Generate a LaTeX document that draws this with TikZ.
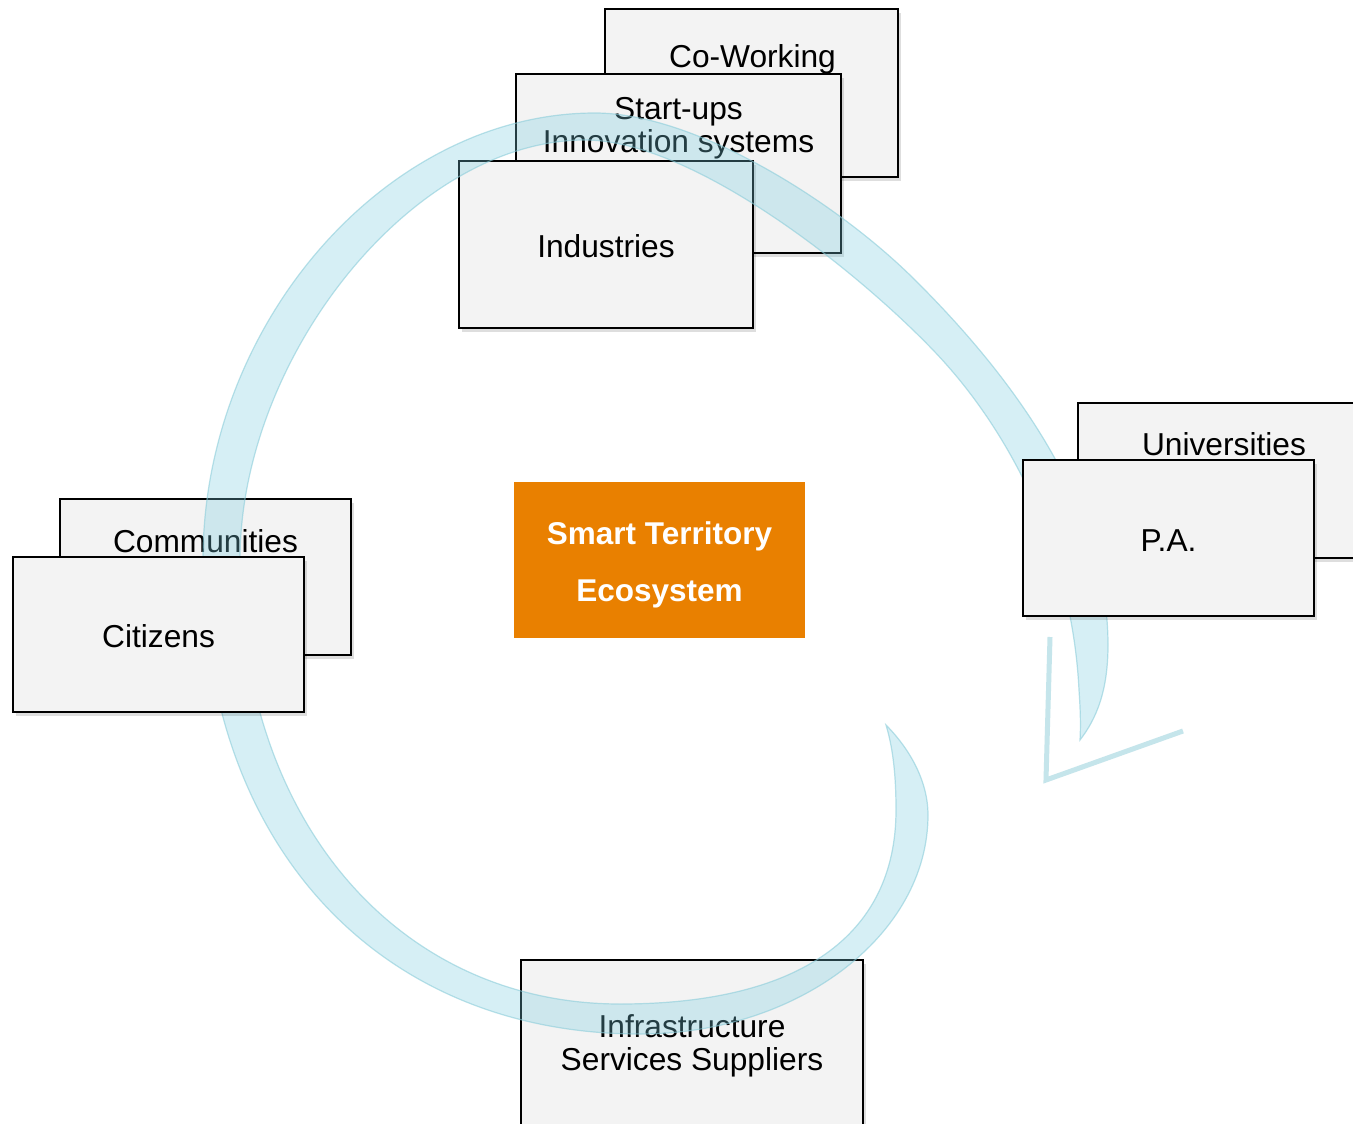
\documentclass[tikz,border=0pt]{standalone}
\usepackage{fontspec}
\setmainfont{Liberation Sans}
\usetikzlibrary{shadows}
\definecolor{boxfill}{RGB}{243,243,243}
\definecolor{orangebox}{RGB}{233,128,0}
\definecolor{ribbon}{RGB}{120,205,225}
\definecolor{ribbonedge}{RGB}{140,205,218}
\definecolor{headline}{RGB}{197,229,235}
\begin{document}
\begin{tikzpicture}[x=1pt,y=-1pt,
  card/.style={draw=black, line width=2.2pt, fill=boxfill, rectangle, inner sep=0pt,
    drop shadow={shadow xshift=3pt,shadow yshift=-4pt,opacity=0.13,fill=black}},
  lbl/.style={anchor=base, inner sep=0pt, font=\fontsize{31.7}{33}\selectfont},
  clbl/.style={anchor=base, inner sep=0pt, text=white, font=\fontsize{31.5}{33}\selectfont\bfseries},
  ribbonstyle/.style={fill=ribbon, fill opacity=0.3, draw=ribbonedge, draw opacity=0.6, line width=1.2pt},
  headstyle/.style={draw=headline, line width=5pt, line join=miter}
]
\clip (0,0) rectangle (1353,1124);
\fill[white] (0,0) rectangle (1353,1124);

% back cards
\node[card, minimum width=293pt, minimum height=168pt] (cowork) at (751.5,93) {};
\node[lbl] (tcowork) at (752.5,67) {Co-Working};
\node[card, minimum width=325pt, minimum height=179pt] (startups) at (678.5,163.5) {};
\node[lbl] (tstart) at (678.5,119) {Start-ups};
\node[lbl] (tinnov) at (678.5,152) {Innovation systems};
\node[card, minimum width=294pt, minimum height=167pt] (industries) at (606,244.5) {};
\node[lbl] (tind) at (606,257) {Industries};
\node[card, minimum width=291pt, minimum height=156pt] (communities) at (205.5,577) {};
\node[lbl] (tcomm) at (205.5,552) {Communities};
\node[card, minimum width=292pt, minimum height=155pt] (universities) at (1224,480.5) {};
\node[lbl] (tuni) at (1224,455) {Universities};
\node[card, minimum width=342pt, minimum height=170pt] (infra) at (692,1045) {};
\node[lbl] (tinfra) at (692,1037) {Infrastructure};
\node[lbl] (tserv) at (692,1070) {Services Suppliers};

% centre
\node[fill=orangebox, rectangle, inner sep=0pt, minimum width=291pt, minimum height=156pt] (centre) at (659.5,560) {};
\node[clbl] (tsmart) at (659.5,544) {Smart Territory};
\node[clbl] (teco) at (659.5,601) {Ecosystem};

% ribbon (outer edge clockwise, then inner edge back)
\filldraw[ribbonstyle]
  (886,725) .. controls (903,742) and (928,775) .. (928,815)
  .. controls (928,935) and (798,1034) .. (640,1034)
  .. controls (378,1034) and (203,844) .. (203,560)
  .. controls (203,323) and (387,113) .. (595,113)
  .. controls (695,113) and (835,201) .. (913,278)
  .. controls (1005,369) and (1108,500) .. (1108,645)
  .. controls (1108,690) and (1097,718) .. (1080,740)
  .. controls (1081,722) and (1080,705) .. (1079,690)
  .. controls (1072,550) and (1009,429) .. (933,350)
  .. controls (850,264) and (690,140) .. (585,140)
  .. controls (412,140) and (240,358) .. (240,560)
  .. controls (240,820) and (398,1004) .. (620,1004)
  .. controls (799,1004) and (896,936) .. (896,810)
  .. controls (896,770) and (892,745) .. (886,725)
  -- cycle;

% front cards
\node[card, minimum width=291pt, minimum height=155pt] (citizens) at (158.5,634.5) {};
\node[lbl] (tcit) at (158.5,647) {Citizens};
\node[card, minimum width=291pt, minimum height=156pt] (pa) at (1168.5,538) {};
\node[lbl] (tpa) at (1168.5,551) {P.A.};

% arrow head
\coordinate (h1) at (1050,637);
\coordinate (h2) at (1046,780);
\coordinate (h3) at (1183,731);
\draw[headstyle] (h1) -- (h2) -- (h3);
\end{tikzpicture}
\end{document}
